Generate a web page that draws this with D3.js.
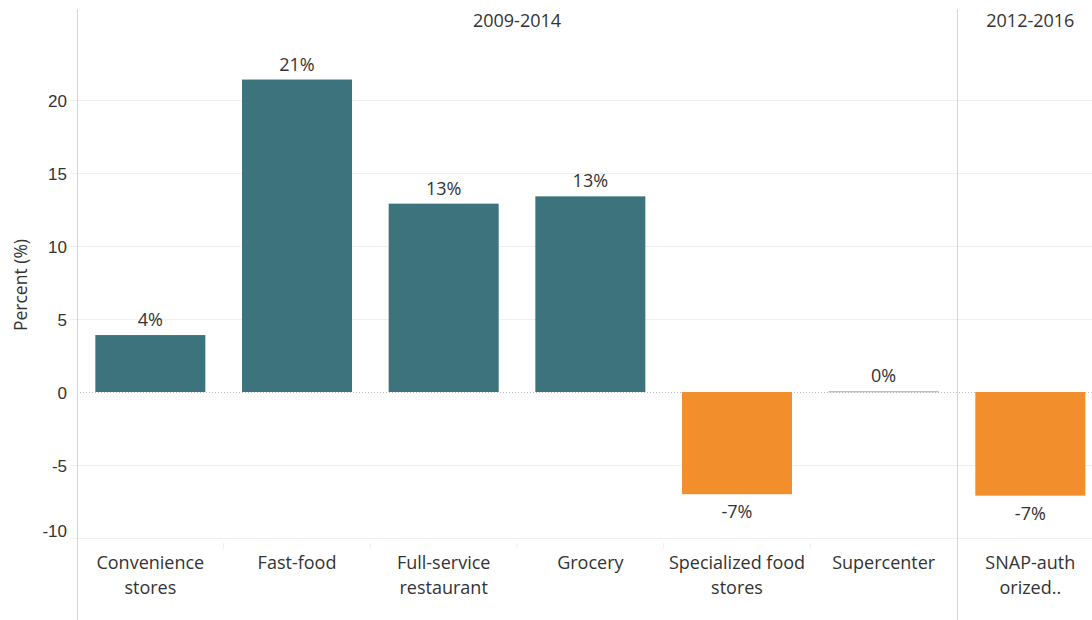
<!DOCTYPE html>
<html>
<head>
<meta charset="utf-8">
<script src="https://cdn.jsdelivr.net/npm/d3@7"></script>
<style>
  html, body { margin: 0; padding: 0; background: #fff; }
  svg { display: block; font-family: "Open Sans", "Noto Sans", sans-serif; }
</style>
</head>
<body>
<svg id="chart" width="1092" height="620"></svg>
<script>
// Percent change in food outlets, grouped by period
const periods = ["2009-2014", "2012-2016"];
const categories = ["Convenience stores", "Fast-food", "Full-service restaurant", "Grocery",
                    "Specialized food stores", "Supercenter", "SNAP-authorized.."];
const categoryPeriod = ["2009-2014", "2009-2014", "2009-2014", "2009-2014",
                        "2009-2014", "2009-2014", "2012-2016"];
const categoryLines = [["Convenience", "stores"], ["Fast-food"], ["Full-service", "restaurant"],
                       ["Grocery"], ["Specialized food", "stores"], ["Supercenter"], ["SNAP-auth", "orized.."]];
const values = [3.9, 21.4, 12.9, 13.4, -7.0, 0.05, -7.1];
const yTicks = [-10, -5, 0, 5, 10, 15, 20];

const svg = d3.select("#chart");
const plotLeft = 77, plotTop = 9, plotBottom = 538, sep = 957;
const step = (sep - plotLeft) / 6;
const textColor = "#333";
const fmt = d3.formatLocale({decimal: ".", thousands: ",", grouping: [3], currency: ["", ""], minus: "-"}).format(".0f");

const y = d3.scaleLinear().domain([-10, 20]).range([plotBottom, 100]);

// one band scale per period panel
const panelCats = periods.map(p => categories.filter((c, i) => categoryPeriod[i] === p));
const panelX = [
  d3.scaleBand().domain(panelCats[0]).range([plotLeft, sep]).paddingInner(0.25).paddingOuter(0.125),
  d3.scaleBand().domain(panelCats[1]).range([sep, sep + step]).paddingInner(0.25).paddingOuter(0.125)
];
const xOf = c => {
  const pi = periods.indexOf(categoryPeriod[categories.indexOf(c)]);
  return panelX[pi](c);
};
const bw = panelX[0].bandwidth();

// gridlines with short tick stubs on the left
const yAxis = d3.axisLeft(y).tickValues(yTicks).tickFormat(d => fmt(d)).tickSizeOuter(0);
const gAxis = svg.append("g").attr("transform", `translate(${plotLeft},0)`).call(yAxis);
gAxis.select(".domain").remove();
gAxis.selectAll(".tick line")
  .attr("x1", -7).attr("x2", 1092)
  .attr("stroke", d => d === 0 ? "none" : "#f0f0f0").attr("stroke-width", 1);
// the lowest label sits above its gridline so it stays inside the plot
gAxis.selectAll(".tick text")
  .attr("fill", textColor).style("font-size", "17px").attr("x", -10)
  .attr("dy", d => d === y.domain()[0] ? "-0.1em" : "0.38em");

// dotted zero line
svg.append("line")
  .attr("x1", plotLeft).attr("x2", 1092)
  .attr("y1", Math.round(y(0)) + 0.5).attr("y2", Math.round(y(0)) + 0.5)
  .attr("stroke", "#bbb").attr("stroke-dasharray", "1,2");

// axis and panel separators
svg.append("line").attr("x1", plotLeft + 0.5).attr("x2", plotLeft + 0.5).attr("y1", plotTop).attr("y2", 620)
  .attr("stroke", "#d4d4d4");
svg.append("line").attr("x1", sep + 0.5).attr("x2", sep + 0.5).attr("y1", plotTop).attr("y2", 620)
  .attr("stroke", "#d4d4d4");

// faint category dividers beneath the plot
panelCats[0].slice(1).forEach(c => {
  const x = panelX[0](c) - (step - bw) / 2;
  svg.append("line").attr("x1", x).attr("x2", x).attr("y1", 543).attr("y2", 549)
    .attr("stroke", "#eee");
});

// period headers
periods.forEach((p, i) => {
  const r = panelX[i].range();
  svg.append("text").attr("x", (r[0] + r[1]) / 2).attr("y", 27)
    .attr("text-anchor", "middle").attr("fill", textColor).style("font-size", "18px").text(p);
});

// bars
svg.append("g").selectAll("rect").data(categories).join("rect")
  .attr("x", c => xOf(c))
  .attr("width", bw)
  .attr("y", (c, i) => y(Math.max(0, values[i])))
  .attr("height", (c, i) => Math.max(1, Math.abs(y(values[i]) - y(0))))
  .attr("fill", (c, i) => values[i] < 0 ? "#f28e2b" : (Math.abs(values[i]) < 0.5 ? "#a9a9a9" : "#3d737c"));

// value labels
svg.append("g").selectAll("text").data(categories).join("text")
  .attr("x", c => xOf(c) + bw / 2)
  .attr("y", (c, i) => values[i] >= 0 ? y(values[i]) - 9 : y(values[i]) + 24)
  .attr("text-anchor", "middle").attr("fill", textColor).style("font-size", "18px")
  .text((c, i) => fmt(values[i]) + "%");

// category labels
const cat = svg.append("g").selectAll("text").data(categories).join("text")
  .attr("x", c => xOf(c) + bw / 2)
  .attr("y", 569)
  .attr("text-anchor", "middle").attr("fill", textColor).style("font-size", "18px");
cat.selectAll("tspan").data((c, i) => categoryLines[i]).join("tspan")
  .attr("x", function() { return this.parentNode.getAttribute("x"); })
  .attr("dy", (d, j) => j === 0 ? 0 : 25)
  .text(d => d);

// y axis title
svg.append("text")
  .attr("transform", "translate(27,285) rotate(-90)")
  .attr("text-anchor", "middle").attr("fill", textColor).style("font-size", "17.5px")
  .text("Percent (%)");
</script>
</body>
</html>
